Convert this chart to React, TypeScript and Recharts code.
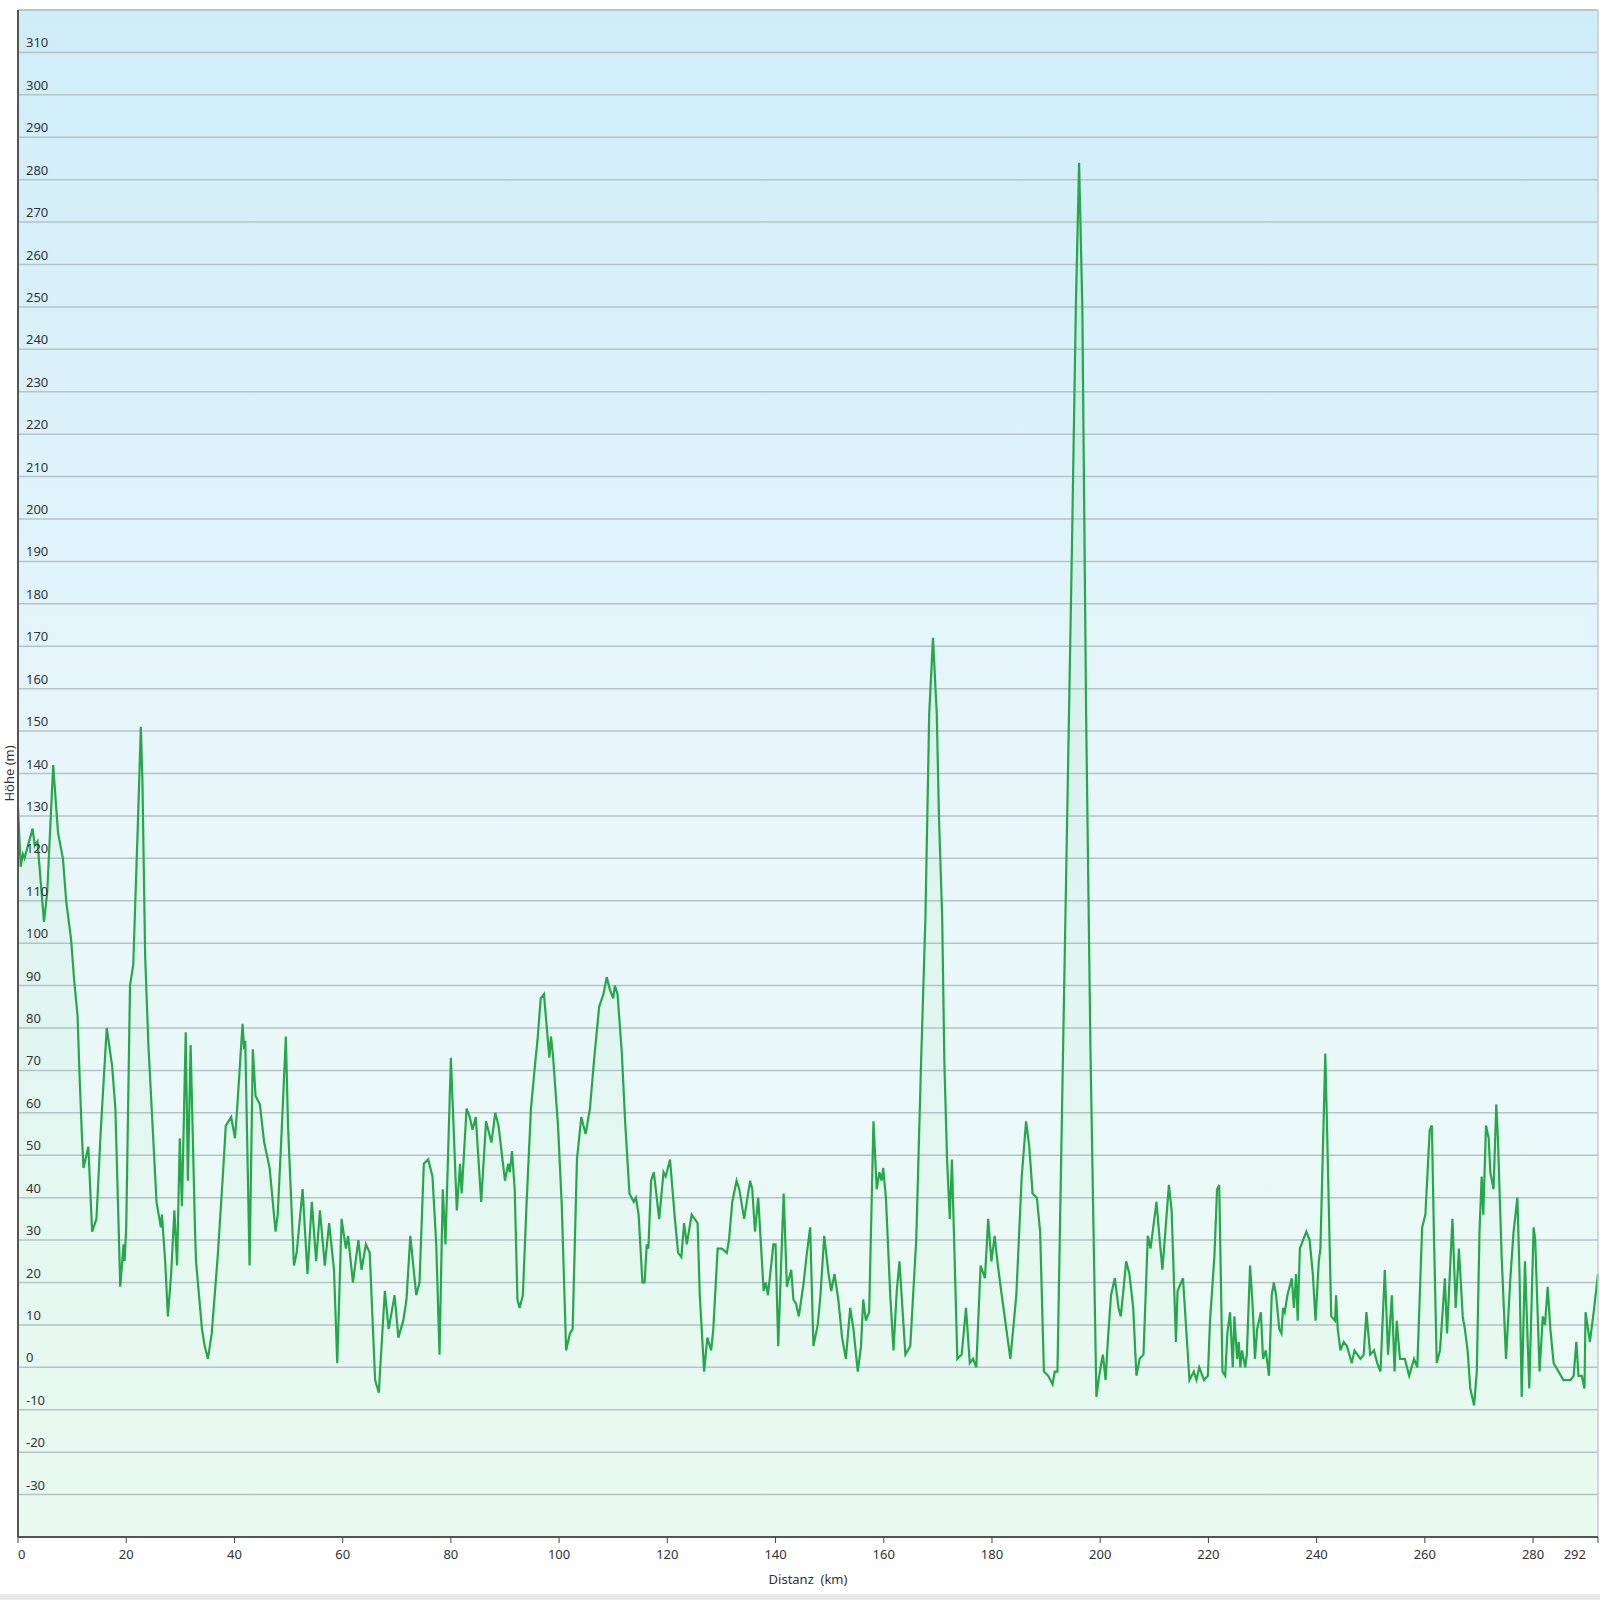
import { AreaChart, Area, XAxis, YAxis, CartesianGrid, ReferenceLine } from 'recharts'

// Höhenprofil: Distanz (km) und Höhe (m)
const distanceKm = [
  0, 0.5, 0.9, 1.2, 2.7, 3.1, 3.6, 4.8, 5.4, 6.5,
  7.4, 8.3, 8.9, 9.8, 10.4, 11.0, 11.4, 11.8, 12.1, 13.0,
  13.7, 14.5, 15.3, 16.4, 17.4, 18.0, 18.9, 19.5, 19.7, 20.0,
  20.7, 21.3, 22.1, 22.7, 23.0, 23.5, 24.1, 25.6, 26.4, 26.6,
  27.2, 27.7, 28.3, 28.9, 29.4, 29.9, 30.3, 31.0, 31.4, 31.9,
  32.7, 32.9, 34.0, 34.5, 35.1, 35.8, 36.9, 37.8, 38.4, 39.4,
  40.1, 40.5, 41.5, 41.8, 42.0, 42.8, 43.4, 43.9, 44.7, 45.5,
  46.5, 47.6, 48.0, 48.7, 49.5, 49.9, 51.0, 51.5, 52.6, 53.5,
  54.3, 55.1, 55.8, 56.7, 57.5, 58.4, 59.0, 59.8, 60.6, 61.0,
  61.9, 62.9, 63.5, 64.3, 65.0, 66.0, 66.7, 66.9, 67.8, 68.5,
  69.6, 70.3, 71.2, 71.8, 72.5, 73.6, 74.2, 75.0, 75.8, 76.6,
  77.3, 77.9, 78.5, 79.0, 80.0, 81.1, 81.7, 82.0, 82.9, 83.5,
  84.0, 84.6, 85.6, 86.5, 87.5, 88.2, 88.8, 90.0, 90.6, 90.9,
  91.3, 91.8, 92.3, 92.7, 93.3, 94.0, 94.8, 95.6, 96.0, 96.6,
  97.2, 98.2, 98.5, 98.9, 99.8, 100.5, 101.3, 102.0, 102.5, 103.3,
  104.1, 104.9, 105.7, 106.5, 107.4, 108.2, 108.8, 109.4, 110.0, 110.3,
  110.8, 111.6, 112.2, 113.0, 113.8, 114.2, 114.7, 115.4, 115.8, 116.2,
  116.5, 117.0, 117.5, 118.5, 119.3, 119.7, 120.5, 121.4, 122.0, 122.6,
  123.1, 123.6, 124.5, 125.6, 126.0, 126.8, 127.4, 128.1, 128.5, 129.3,
  130.1, 131.0, 131.4, 132.0, 132.8, 133.3, 134.2, 135.3, 135.7, 136.2,
  136.8, 137.8, 138.2, 138.6, 139.6, 140.0, 140.5, 141.5, 142.1, 142.9,
  143.3, 143.8, 144.3, 145.2, 145.8, 146.4, 147.0, 147.8, 148.3, 149.0,
  149.8, 150.3, 150.9, 151.6, 152.3, 153.0, 153.8, 154.4, 155.2, 155.8,
  156.2, 156.7, 157.3, 158.1, 158.7, 159.2, 159.6, 159.9, 160.4, 161.2,
  161.8, 162.4, 162.9, 164.0, 164.9, 166.0, 166.9, 167.7, 168.4, 169.1,
  169.8, 170.2, 170.8, 171.2, 171.7, 172.2, 172.6, 173.6, 174.4, 175.2,
  175.9, 176.5, 177.1, 177.9, 178.7, 179.3, 179.9, 180.5, 181.0, 181.6,
  183.4, 184.5, 185.5, 186.3, 186.9, 187.5, 188.3, 188.9, 189.6, 190.4,
  191.2, 191.6, 192.1, 193.1, 194.8, 195.5, 196.1, 196.7, 197.4, 198.2,
  198.8, 199.3, 199.7, 200.2, 200.5, 201.0, 201.4, 202.0, 202.7, 203.4,
  203.8, 204.2, 204.8, 205.4, 206.1, 206.7, 207.3, 208.0, 208.8, 209.3,
  209.6, 210.4, 211.0, 211.5, 212.7, 213.2, 214.0, 214.3, 215.3, 216.5,
  217.3, 217.8, 218.3, 219.2, 219.9, 220.3, 221.1, 221.6, 222.0, 222.6,
  223.1, 223.5, 224.0, 224.5, 224.8, 225.3, 225.6, 225.9, 226.2, 226.8,
  227.1, 227.7, 228.2, 228.6, 229.0, 229.7, 230.1, 230.6, 231.2, 231.7,
  232.1, 232.5, 233.1, 233.5, 233.8, 234.1, 234.6, 235.0, 235.4, 235.8,
  236.2, 236.5, 236.9, 238.1, 238.7, 239.3, 239.8, 240.4, 240.7, 241.6,
  241.9, 242.7, 243.4, 243.6, 243.9, 244.4, 245.0, 245.6, 246.5, 247.0,
  248.1, 248.7, 249.2, 249.9, 250.6, 251.2, 251.8, 252.6, 253.2, 253.9,
  254.4, 254.8, 255.4, 256.3, 257.1, 258.0, 258.6, 259.5, 260.1, 260.9,
  261.3, 261.7, 262.2, 262.8, 263.7, 264.1, 265.1, 265.7, 266.3, 267.0,
  267.4, 267.9, 268.4, 269.1, 269.6, 270.1, 270.5, 270.8, 271.3, 271.8,
  272.1, 272.7, 273.2, 273.5, 274.2, 275.0, 275.8, 276.4, 277.1, 277.5,
  277.9, 278.5, 279.3, 280.1, 280.4, 281.2, 281.8, 282.2, 282.7, 283.2,
  283.8, 284.7, 285.6, 286.9, 287.5, 288.0, 288.4, 289.0, 289.5, 289.7,
  290.5, 291.2, 292.0,
]

const heightM = [
  132, 118, 121, 120, 127, 123, 124, 105, 112, 142,
  126, 120, 110, 101, 91, 83, 68, 55, 47, 52,
  32, 35, 56, 80, 71, 61, 19, 29, 25, 33,
  90, 95, 126, 151, 138, 97, 76, 39, 33, 36,
  25, 12, 22, 37, 24, 54, 38, 79, 44, 76,
  33, 25, 9, 5, 2, 8, 26, 44, 57, 59,
  54, 61, 81, 75, 77, 24, 75, 64, 62, 53,
  47, 32, 36, 55, 78, 57, 24, 27, 42, 22,
  39, 25, 37, 24, 34, 23, 1, 35, 28, 31,
  20, 30, 23, 29, 27, -3, -6, -1, 18, 9,
  17, 7, 11, 16, 31, 17, 20, 48, 49, 45,
  29, 3, 42, 29, 73, 37, 48, 41, 61, 59,
  56, 59, 39, 58, 53, 60, 57, 44, 48, 46,
  51, 42, 16, 14, 17, 39, 61, 72, 77, 87,
  88, 73, 78, 73, 57, 38, 4, 8, 9, 49,
  59, 55, 61, 73, 85, 88, 92, 89, 87, 90,
  88, 74, 58, 41, 39, 40, 36, 20, 20, 29,
  28, 44, 46, 35, 46, 45, 49, 35, 27, 26,
  34, 29, 36, 34, 17, -1, 7, 4, 9, 28,
  28, 27, 30, 39, 44, 42, 35, 44, 42, 32,
  40, 18, 20, 17, 29, 29, 5, 41, 19, 23,
  16, 15, 12, 20, 27, 33, 5, 10, 17, 31,
  22, 18, 22, 16, 7, 2, 14, 9, -1, 5,
  16, 11, 13, 58, 42, 46, 44, 47, 40, 17,
  4, 18, 25, 3, 5, 30, 72, 106, 154, 172,
  154, 130, 106, 72, 49, 35, 49, 2, 3, 14,
  1, 2, 0, 24, 21, 35, 25, 31, 25, 19,
  2, 17, 45, 58, 52, 41, 40, 32, -1, -2,
  -4, -1, -1, 72, 195, 250, 284, 250, 154, 75,
  30, -7, -3, 1, 3, -3, 6, 17, 21, 14,
  12, 17, 25, 22, 14, -2, 2, 3, 31, 28,
  31, 39, 30, 23, 43, 37, 6, 18, 21, -3,
  -1, -3, 0, -3, -2, 11, 26, 42, 43, -1,
  -2, 8, 13, 0, 12, 2, 6, 0, 4, 0,
  3, 24, 14, 2, 9, 13, 2, 4, -2, 17,
  20, 17, 9, 8, 14, 13, 17, 19, 21, 14,
  22, 11, 28, 32, 30, 22, 11, 25, 28, 74,
  58, 12, 11, 17, 9, 4, 6, 5, 1, 4,
  2, 3, 13, 3, 4, 1, -1, 23, 3, 17,
  -1, 11, 2, 2, -2, 2, 0, 33, 36, 56,
  57, 30, 1, 4, 21, 8, 35, 14, 28, 12,
  9, 4, -5, -9, -1, 32, 45, 36, 57, 54,
  46, 42, 62, 54, 26, 2, 21, 32, 40, 22,
  -7, 25, -5, 33, 30, -1, 12, 10, 19, 9,
  1, -1, -3, -3, -2, 6, -2, -2, -5, 13,
  6, 13, 22,
]

const xTicks = [0, 20, 40, 60, 80, 100, 120, 140, 160, 180, 200, 220, 240, 260, 280, 292]
const yTicks = [
  -30, -20, -10, 0, 10, 20, 30, 40, 50, 60, 70, 80, 90, 100, 110, 120, 130, 140, 150,
  160, 170, 180, 190, 200, 210, 220, 230, 240, 250, 260, 270, 280, 290, 300, 310,
]

const profile = distanceKm.map((km, i) => ({ km, height: heightM[i] }))

const FONT = '"Noto Sans", "DejaVu Sans", sans-serif'

// y labels sit inside the plot, just above their grid line
function HeightTick({ x, y, payload }: any) {
  return (
    <text x={x + 8} y={y - 5} fontSize={13} fill="#333" fontFamily={FONT}>
      {payload.value}
    </text>
  )
}

function DistanceTick({ x, y, payload }: any) {
  const v = payload.value
  const anchor = v === 0 ? 'start' : v === 292 ? 'end' : 'middle'
  return (
    <text x={v === 292 ? x - 2 : x} y={y} dy="0.71em" textAnchor={anchor} fontSize={13} fill="#333" fontFamily={FONT}>
      {v}
    </text>
  )
}

export default function App() {
  return (
    <div style={{ position: 'absolute', left: 0, top: 0, width: 1600, height: 1600, background: '#fff' }}>
      <AreaChart width={1600} height={1594} data={profile} margin={{ top: 10, right: 2, left: 0, bottom: 0 }}>
        <defs>
          <linearGradient id="bgGrad" x1="0" y1="0" x2="0" y2="1">
            <stop offset="0%" stopColor="#cfedf9" />
            <stop offset="55%" stopColor="#eaf7fb" />
            <stop offset="100%" stopColor="#ecfcf2" />
          </linearGradient>
          <linearGradient id="areaGrad" x1="0" y1="0" x2="0" y2="1">
            <stop offset="0%" stopColor="#7fd89a" stopOpacity={0.3} />
            <stop offset="100%" stopColor="#7fd89a" stopOpacity={0.04} />
          </linearGradient>
        </defs>
        <CartesianGrid vertical={false} stroke="#b5c3c7" strokeWidth={1.5} fill="url(#bgGrad)" fillOpacity={1} />
        <XAxis
          type="number"
          dataKey="km"
          domain={[0, 292]}
          ticks={xTicks}
          height={57}
          tickSize={6}
          tickMargin={7}
          tick={<DistanceTick />}
          tickLine={{ stroke: '#444' }}
          axisLine={{ stroke: '#555', strokeWidth: 2 }}
          label={{ value: 'Distanz\u00a0 (km)', position: 'insideBottom', offset: 10, fontSize: 13, fill: '#333', fontFamily: FONT }}
        />
        <YAxis
          type="number"
          domain={[-40, 320]}
          ticks={yTicks}
          width={18}
          tickSize={0}
          tickMargin={0}
          tickLine={false}
          tick={<HeightTick />}
          axisLine={{ stroke: '#555', strokeWidth: 2 }}
          label={{ value: 'Höhe (m)', angle: -90, position: 'center', fontSize: 13, fill: '#333', fontFamily: FONT }}
        />
        <ReferenceLine y={320} stroke="#b9c3c6" strokeWidth={1.5} />
        <ReferenceLine x={292} stroke="#c4cdd0" strokeWidth={1.5} />
        <Area
          type="linear"
          dataKey="height"
          stroke="#25a84b"
          strokeWidth={2.2}
          fill="url(#areaGrad)"
          baseValue={-40}
          dot={false}
          activeDot={false}
          isAnimationActive={false}
        />
      </AreaChart>
      <div style={{ position: 'absolute', left: 0, top: 1594, width: 1600, height: 6, background: '#e9e9e9' }} />
    </div>
  )
}
